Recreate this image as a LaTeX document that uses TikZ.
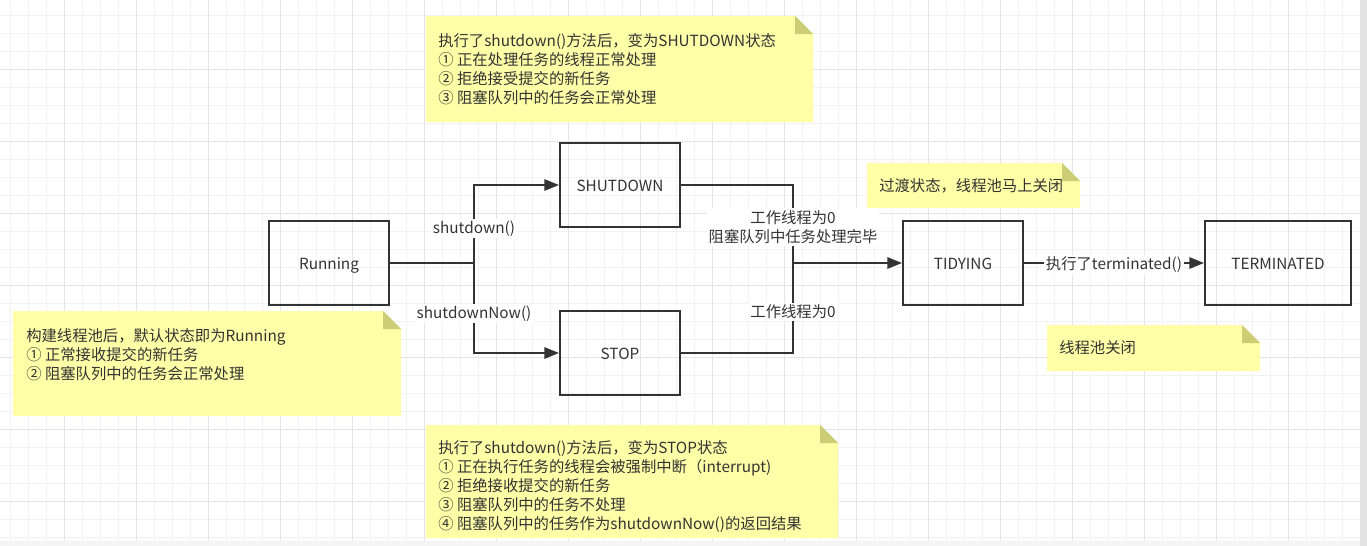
\documentclass[tikz,border=0pt]{standalone}
\usepackage{fontspec}
\setmainfont{Noto Sans CJK SC}
\usetikzlibrary{positioning,arrows.meta}
\definecolor{ink}{HTML}{333333}
\definecolor{memofill}{HTML}{FFFFA8}
\definecolor{memofoldc}{HTML}{CDCD78}
\definecolor{gridminor}{HTML}{F2F2F2}
\definecolor{gridmajor}{HTML}{E4E4E4}
\newcommand{\memo}[4]{%
  \fill[memofill] (#1,#2) -- (#3-18,#2) -- (#3,#2+18) -- (#3,#4) -- (#1,#4) -- cycle;
  \fill[memofoldc] (#3-18,#2) -- (#3-18,#2+18) -- (#3,#2+18) -- cycle;}

\begin{document}
\begin{tikzpicture}[x=0.75pt, y=-0.75pt,
    font=\fontsize{11.5pt}{14.3pt}\selectfont, text=ink,
    state/.style={draw=ink, line width=1.5pt, minimum width=90pt, minimum height=63pt,
      text height=9.5pt, text depth=0pt},
    flow/.style={draw=ink, line width=1.5pt, -{Triangle[length=11pt,width=8.5pt]}},
    link/.style={draw=ink, line width=1.5pt},
    lbl/.style={fill=white, inner sep=1.5pt, align=center},
    memotext/.style={anchor=west, inner sep=0pt, align=left}]
    \useasboundingbox (0,0) rectangle (1367,546);
    % grid
    \foreach \i in {0,...,74} \draw[gridminor, line width=0.9pt] ({10.7+18*\i},0) -- ++(0,541);
    \foreach \i in {0,...,29} \draw[gridminor, line width=0.9pt] (0,{15.7+18*\i}) -- ++(1360,0);
    \foreach \i in {0,...,17} \draw[gridmajor, line width=0.75pt] ({64.7+72*\i},0) -- ++(0,541);
    \foreach \i in {0,...,6} \draw[gridmajor, line width=0.75pt] (0,{69.7+72*\i}) -- ++(1360,0);
    \fill[gray!22] (1360,0) rectangle (1367,546);
    \fill[gray!8] (0,541) rectangle (1360,546);

    % notes
    \memo{426}{16}{813}{122}
    \node[memotext] (shutnote) at (438,69) {执行了shutdown()方法后，变为SHUTDOWN状态\\① 正在处理任务的线程正常处理\\② 拒绝接受提交的新任务\\③ 阻塞队列中的任务会正常处理};
    \memo{13}{311}{401}{416}
    \node[memotext] (runnote) at (26,355) {构建线程池后，默认状态即为Running\\① 正常接收提交的新任务\\② 阻塞队列中的任务会正常处理};
    \memo{426}{425}{838}{538}
    \node[memotext] (stopnote) at (438,486.5) {执行了shutdown()方法后，变为STOP状态\\① 正在执行任务的线程会被强制中断（interrupt)\\② 拒绝接收提交的新任务\\③ 阻塞队列中的任务不处理\\④ 阻塞队列中的任务作为shutdownNow()的返回结果};
    \memo{867}{163}{1080}{208}
    \node[memotext] (tidynote) at (879,186) {过渡状态，线程池马上关闭};
    \memo{1047}{325}{1260}{371}
    \node[memotext] (termnote) at (1059,348) {线程池关闭};

    % states
    \node[state] (run) at (329,263) {Running};
    \node[state] (shut) at (620,185) {SHUTDOWN};
    \node[state] (stop) at (620,353) {STOP};
    \node[state] (tidy) at (963,263) {TIDYING};
    \node[state, minimum width=109.5pt, right=135pt of tidy] (term) {TERMINATED};

    \coordinate (split) at (474,263);
    \coordinate (merge) at (793,263);
    \draw[flow] (run.east) -- (split) |- node[lbl, pos=0.22] {shutdown()} (shut.west);
    \draw[flow] (run.east) -- (split) |- node[lbl, pos=0.28] {shutdownNow()} (stop.west);
    \draw[link] (shut.east) -| node[lbl, pos=0.77] {工作线程为0\\阻塞队列中任务处理完毕} (merge);
    \draw[link] (stop.east) -| node[lbl, pos=0.73] {工作线程为0} (merge);
    \draw[flow] (merge) -- (tidy.west);
    \draw[flow] (tidy) -- node[lbl, yshift=-1.5pt] {执行了terminated()} (term);
\end{tikzpicture}
\end{document}
